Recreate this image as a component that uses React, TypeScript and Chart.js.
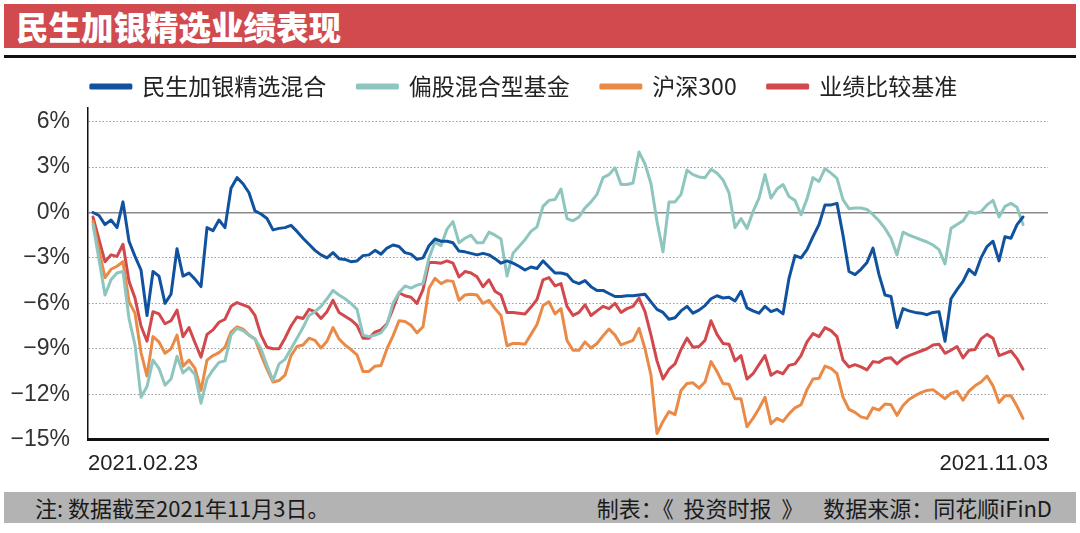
import React, { useEffect, useRef } from 'react';
import { Chart, registerables } from 'chart.js';

Chart.register(...registerables);

const seriesNames = ['民生加银精选混合', '偏股混合型基金', '沪深300', '业绩比较基准'];
const seriesColors = ['#11529f', '#8ec6bf', '#e98a47', '#d1484d'];
const xLabels = ['2021.02.23', '2021.11.03'];
const yTicks = [-15, -12, -9, -6, -3, 0, 3, 6];

// 民生加银精选混合 (%)
const minshengFund = [
  0.0, -0.2, -0.8, -0.5, -1.0, 0.7, -1.9, -2.9, -3.8, -6.8,
  -3.9, -4.2, -6.0, -5.4, -2.4, -4.2, -4.0, -4.4, -4.9, -1.0,
  -1.2, -0.5, -1.0, 1.6, 2.3, 1.9, 1.3, 0.1, -0.1, -0.4,
  -1.15, -1.05, -1.0, -0.85, -1.25, -1.7, -2.1, -2.5, -2.8, -3.0,
  -2.65, -3.05, -3.1, -3.25, -3.2, -2.85, -2.8, -2.5, -2.75, -2.35,
  -2.15, -2.25, -2.65, -2.75, -3.1, -3.0, -2.2, -1.75, -1.9, -1.9,
  -2.0, -2.55, -2.6, -2.7, -2.8, -2.7, -2.8, -3.05, -3.35, -3.2,
  -3.35, -3.55, -3.8, -3.6, -3.7, -3.2, -3.6, -4.0, -4.0, -4.1,
  -4.55, -4.7, -4.5, -4.9, -5.15, -5.15, -5.35, -5.55, -5.55, -5.5,
  -5.5, -5.45, -5.4, -5.9, -6.4, -6.6, -7.05, -6.95, -6.5, -6.2,
  -6.65, -6.45, -6.15, -5.7, -5.5, -5.65, -5.6, -5.85, -5.2, -6.3,
  -6.5, -6.65, -6.2, -6.55, -6.4, -6.7, -4.35, -2.85, -3.0, -2.45,
  -1.6, -0.8, 0.5, 0.5, 0.6, -1.5, -3.9, -4.1, -3.75, -3.3,
  -2.35, -4.1, -5.45, -5.55, -7.6, -6.35, -6.5, -6.6, -6.65, -6.75,
  -6.6, -6.55, -8.5, -5.7, -5.1, -4.55, -3.75, -4.1, -3.0, -2.25,
  -1.9, -3.2, -1.6, -1.7, -0.8, -0.3,
];

// 偏股混合型基金 (%)
const equityHybridFunds = [
  -0.8, -3.1, -5.45, -4.45, -4.0, -3.9, -7.0, -8.75, -12.2, -11.5,
  -9.75, -10.3, -11.4, -11.0, -9.5, -10.6, -10.25, -10.7, -12.6, -11.0,
  -10.4, -9.9, -9.8, -8.1, -7.65, -7.8, -8.1, -8.35, -9.0, -10.1,
  -11.1, -10.0, -9.7, -9.0, -8.3, -7.6, -6.8, -6.55, -6.2, -5.7,
  -5.15, -5.45, -5.7, -6.0, -6.4, -8.1, -8.2, -8.1, -7.95, -7.4,
  -6.0, -5.3, -4.85, -5.0, -4.8, -4.7, -3.0, -1.95, -2.2, -1.1,
  -0.6, -2.0, -1.7, -1.5, -2.0, -2.0, -1.3, -1.5, -1.75, -4.2,
  -2.7, -2.25, -1.8, -1.25, -0.95, 0.4, 0.8, 0.85, 1.55, -0.4,
  -0.55, -0.3, 0.3, 0.7, 1.2, 2.3, 2.5, 2.95, 1.85, 1.85,
  1.95, 4.0, 3.2, 1.9, -0.6, -2.6, 0.7, 0.7, 1.2, 2.8,
  2.5, 2.35, 2.3, 2.85, 2.6, 2.15, 1.3, -1.0, -0.4, -1.05,
  0.05, 0.95, 2.5, 0.95, 1.55, 1.85, 1.05, 0.8, -0.15, 0.9,
  2.3, 2.05, 2.9, 2.6, 2.25, 0.85, 0.25, 0.3, 0.3, 0.2,
  -0.15, -0.55, -1.05, -1.7, -2.8, -1.3, -1.5, -1.65, -1.8, -1.95,
  -2.15, -2.45, -3.4, -1.05, -0.8, -0.55, 0.05, -0.05, 0.05, 0.5,
  0.8, -0.3, 0.4, 0.6, 0.35, -0.8,
];

// 沪深300 (%)
const csi300 = [
  -0.6, -2.5, -4.3, -3.75, -3.55, -3.25, -5.9, -6.65, -9.25, -10.8,
  -8.2, -8.55, -9.3, -9.0, -8.1, -10.15, -9.75, -10.3, -11.75, -9.75,
  -9.45, -9.25, -8.9, -7.9, -7.55, -7.7, -8.1, -8.35, -9.4, -10.35,
  -11.2, -11.1, -10.75, -9.45, -8.85, -8.75, -8.3, -8.45, -8.95, -8.5,
  -7.6, -8.35, -8.75, -9.05, -9.4, -10.5, -10.5, -10.15, -10.1, -9.0,
  -8.15, -7.15, -7.2, -7.45, -7.95, -7.55, -5.0, -4.35, -4.7, -4.5,
  -4.55, -5.8, -5.45, -5.4, -5.45, -6.0, -5.8, -6.35, -6.8, -8.8,
  -8.65, -8.65, -8.7, -8.05, -7.4, -6.15, -5.9, -6.7, -6.35, -8.45,
  -9.1, -9.1, -8.55, -8.95, -8.65, -8.15, -7.7, -8.1, -8.75, -8.6,
  -8.45, -7.65, -9.0, -10.75, -14.6, -13.8, -13.15, -13.35, -11.75, -11.3,
  -11.25, -11.6, -11.2, -9.85, -10.5, -11.3, -11.35, -12.3, -12.3, -14.15,
  -13.6, -12.95, -12.2, -13.95, -13.6, -13.8, -13.3, -12.9, -12.7, -11.7,
  -11.0, -10.95, -10.15, -10.3, -10.65, -12.2, -13.0, -13.2, -13.5, -13.6,
  -12.9, -13.05, -12.65, -12.7, -13.4, -12.75, -12.35, -12.1, -11.9, -11.75,
  -11.7, -12.0, -12.3, -11.95, -11.8, -12.4, -11.8, -11.45, -11.2, -10.8,
  -11.45, -12.55, -12.1, -12.1, -12.8, -13.6,
];

// 业绩比较基准 (%)
const benchmark = [
  -0.3, -1.8, -3.25, -2.8, -2.9, -2.1, -4.55, -5.65, -7.5, -8.5,
  -6.55, -6.7, -7.35, -7.15, -6.45, -8.2, -7.6, -8.6, -9.55, -8.05,
  -7.75, -7.25, -7.05, -6.2, -5.95, -6.1, -6.25, -6.8, -8.1, -8.9,
  -9.0, -9.0, -8.3, -7.5, -6.9, -7.0, -6.4, -6.55, -7.0, -6.55,
  -5.8, -6.6, -6.85, -7.1, -7.45, -8.3, -8.3, -7.9, -7.75, -7.35,
  -6.35, -5.3, -5.5, -5.6, -6.0, -5.1, -3.3, -3.3, -3.35, -3.2,
  -3.35, -4.25, -3.9, -4.0, -4.25, -4.9, -4.45, -5.2, -5.45, -6.6,
  -6.6, -6.65, -6.7, -6.25, -5.75, -4.45, -4.3, -4.85, -4.7, -6.2,
  -6.8, -6.6, -6.1, -6.8, -6.5, -6.2, -6.35, -6.0, -6.6, -6.35,
  -6.2, -5.65, -6.55, -8.1, -9.8, -11.0, -10.35, -10.0, -9.05, -8.3,
  -8.9, -8.85, -8.45, -7.15, -8.05, -8.65, -8.7, -9.8, -9.45, -11.0,
  -10.65, -10.05, -9.45, -10.75, -10.5, -10.65, -10.1, -10.0, -9.45, -8.55,
  -8.0, -8.2, -7.6, -7.8, -8.2, -9.75, -10.2, -10.05, -10.2, -10.4,
  -9.85, -9.9, -9.65, -9.6, -10.0, -9.65, -9.45, -9.3, -9.15, -9.0,
  -8.75, -8.7, -9.3, -9.1, -8.85, -9.6, -9.1, -9.05, -8.35, -8.05,
  -8.3, -9.45, -9.3, -9.15, -9.65, -10.35,
];

const seriesValues = [minshengFund, equityHybridFunds, csi300, benchmark];

const FONT = '"Liberation Sans", "Noto Sans CJK SC", sans-serif';
const CJK_FONT = '"Noto Sans CJK SC", "Liberation Sans", sans-serif';

export default function App() {
  const canvasRef = useRef<HTMLCanvasElement | null>(null);

  useEffect(() => {
    document.body.style.margin = '0';
    const canvas = canvasRef.current;
    if (!canvas) return;
    const n = minshengFund.length;
    const chart = new Chart(canvas, {
      type: 'line',
      data: {
        datasets: seriesNames.map((name, i) => ({
          label: name,
          data: seriesValues[i].map((v, k) => ({ x: k, y: v })),
          borderColor: seriesColors[i],
          backgroundColor: seriesColors[i],
          borderWidth: 3,
          pointRadius: 0,
          tension: 0,
          borderJoinStyle: 'round' as const,
          borderCapStyle: 'round' as const,
        })),
      },
      options: {
        animation: false,
        responsive: false,
        maintainAspectRatio: false,
        layout: { padding: { top: 6, right: 32, bottom: 4, left: 0 } },
        plugins: {
          tooltip: { enabled: false },
          legend: {
            position: 'top',
            labels: {
              boxWidth: 40,
              boxHeight: 3,
              padding: 31,
              color: '#222',
              font: { family: CJK_FONT, size: 23 },
            },
          },
        },
        scales: {
          x: {
            type: 'linear',
            min: -5 / 6,
            max: n - 1 + 25 / 6,
            afterBuildTicks: (axis: any) => {
              axis.ticks = [{ value: axis.min }, { value: axis.max }];
            },
            ticks: {
              autoSkip: false,
              maxRotation: 0,
              align: 'inner',
              padding: 3,
              color: '#222',
              font: { family: FONT, size: 22 },
              callback: (_v: any, i: number) => xLabels[i],
            },
            grid: { display: false },
            border: { display: true, color: '#111', width: 3 },
          },
          y: {
            min: -15,
            max: 6.9,
            afterBuildTicks: (axis: any) => {
              axis.ticks = yTicks.map((v) => ({ value: v }));
            },
            afterFit: (scale: any) => {
              scale.width = 88;
            },
            ticks: {
              padding: 18,
              color: '#333',
              font: { family: FONT, size: 23 },
              callback: (v: any) => (Number(v) < 0 ? '\u2212' : '') + Math.abs(Number(v)) + '%',
            },
            grid: {
              drawTicks: false,
              color: (ctx: any) => {
                const v = ctx.tick ? ctx.tick.value : null;
                if (v === -15) return 'rgba(0,0,0,0)';
                if (v === 0) return '#8a8a8a';
                return '#9c9c9c';
              },
              lineWidth: (ctx: any) => (ctx.tick && ctx.tick.value === 0 ? 1.6 : 1),
            },
            border: {
              display: true,
              color: '#111',
              width: 1.5,
              dash: (ctx: any) => (!ctx.tick || ctx.tick.value === 0 ? [] : [1.5, 2]),
            },
          },
        },
      },
    });
    return () => chart.destroy();
  }, []);

  return (
    <div style={{ position: 'relative', width: 1080, height: 533, background: '#fff', overflow: 'hidden' }}>
      <div
        style={{
          position: 'absolute', left: 4, top: 4, width: 1072, height: 44,
          background: '#d04a4e', color: '#fff', fontFamily: CJK_FONT, fontWeight: 900,
          fontSize: 32.5, lineHeight: '44px', paddingLeft: 12, boxSizing: 'border-box',
        }}
      >
        民生加银精选业绩表现
      </div>
      <div style={{ position: 'absolute', left: 4, top: 55, width: 1072, height: 3, background: '#111' }} />
      <canvas
        ref={canvasRef}
        width={1080}
        height={446}
        style={{ position: 'absolute', left: 0, top: 38, width: 1080, height: 446 }}
      />
      <div
        style={{
          position: 'absolute', left: 4, top: 492, width: 1072, height: 31,
          background: '#b3b3b3', color: '#1a1a1a', fontFamily: CJK_FONT, fontSize: 22,
          lineHeight: '31px', display: 'flex', justifyContent: 'space-between',
          padding: '0 24px 0 31px', boxSizing: 'border-box', whiteSpace: 'pre',
        }}
      >
        <span>注: 数据截至2021年11月3日。</span>
        <span>制表：《  投资时报  》    数据来源：同花顺iFinD</span>
      </div>
    </div>
  );
}
